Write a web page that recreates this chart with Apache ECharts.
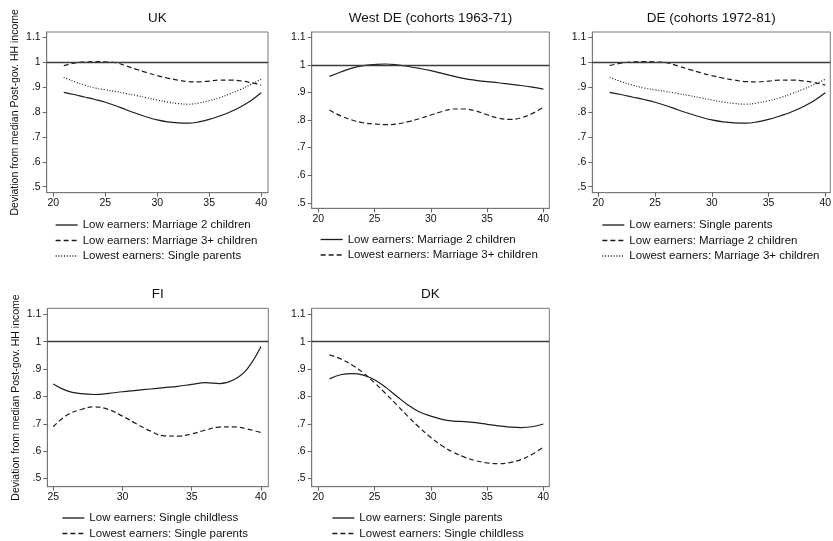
<!DOCTYPE html>
<html><head><meta charset="utf-8">
<script src="https://cdn.jsdelivr.net/npm/echarts@6/dist/echarts.min.js"></script>
<style>html,body{margin:0;padding:0;background:#fff}#c{width:833px;height:541px}</style>
</head><body><div id="c"></div>
<script>
// ---------- data ----------
const ages2040 = [21,22,23,24,25,26,27,28,29,30,31,32,33,34,35,36,37,38,39,40];
const agesFI   = [25,26,27,28,29,30,31,32,33,34,35,36,37,38,39,40];
const xTicks2040 = [20,25,30,35,40];
const xTicksFI   = [25,30,35,40];
const yTicks = [0.5,0.6,0.7,0.8,0.9,1,1.1];
const refLevel = 1;
const yTitle = 'Deviation from median Post-gov. HH income';

// UK
const ukLowMarriage2   = [.879,.870,.860,.850,.839,.825,.809,.794,.780,.768,.760,.756,.755,.760,.770,.784,.800,.820,.845,.877];
const ukLowMarriage3   = [.986,.996,1.001,1.002,1.001,.998,.985,.971,.958,.946,.936,.928,.922,.921,.924,.928,.928,.925,.918,.908];
const ukLowestSingleP  = [.939,.922,.908,.896,.889,.882,.874,.866,.857,.848,.840,.834,.831,.836,.845,.857,.873,.890,.910,.931];
// West DE (cohorts 1963-71)
const wdeLowMarriage2     = [.958,.974,.988,.997,1.001,1.003,1.000,.994,.987,.979,.969,.959,.950,.944,.939,.935,.930,.925,.919,.912];
const wdeLowestMarriage3  = [.836,.815,.800,.790,.786,.783,.786,.794,.805,.818,.831,.840,.840,.833,.819,.807,.802,.808,.823,.846];
// DE (cohorts 1972-81)
const deLowSingleP        = [.879,.870,.860,.850,.839,.825,.809,.794,.780,.768,.760,.756,.755,.760,.770,.784,.800,.820,.845,.877];
const deLowMarriage2      = [.986,.996,1.001,1.002,1.001,.998,.985,.971,.958,.946,.936,.928,.922,.921,.924,.928,.928,.925,.918,.908];
const deLowestMarriage3   = [.939,.922,.908,.896,.889,.882,.874,.866,.857,.848,.840,.834,.831,.836,.845,.857,.873,.890,.910,.931];
// FI
const fiLowSingleChildless   = [.845,.820,.810,.807,.811,.817,.822,.827,.832,.837,.844,.850,.847,.860,.900,.982];
const fiLowestSingleParents  = [.689,.732,.752,.762,.752,.728,.700,.674,.656,.655,.663,.677,.688,.689,.681,.668];
// DK
const dkLowSingleParents     = [.864,.879,.883,.878,.861,.833,.800,.768,.743,.728,.716,.710,.708,.704,.698,.692,.688,.686,.689,.699];
const dkLowestSingleChildless= [.952,.937,.915,.886,.850,.810,.768,.726,.686,.650,.620,.596,.578,.565,.557,.554,.558,.569,.588,.615];

// ---------- layout / style ----------
const FONT = "'Liberation Sans', Arial, sans-serif";
const DASH = {solid:'solid', dashed:[5,3], dotted:[1,1.8]};
const panels = [
  {title:'UK', box:[46.7,32,268,192.7], x:[19.36,40.66], y:[0.476,1.121], xt:xTicks2040, yName:true, lg:[55,219],
   s:[['Low earners: Marriage 2 children',ages2040,ukLowMarriage2,'solid'],
      ['Low earners: Marriage 3+ children',ages2040,ukLowMarriage3,'dashed'],
      ['Lowest earners: Single parents',ages2040,ukLowestSingleP,'dotted']]},
  {title:'West DE (cohorts 1963-71)', box:[311.7,32,549.3,208.3], x:[19.42,40.53], y:[0.48,1.119], xt:xTicks2040, yName:false, lg:[320,233.5],
   s:[['Low earners: Marriage 2 children',ages2040,wdeLowMarriage2,'solid'],
      ['Lowest earners: Marriage 3+ children',ages2040,wdeLowestMarriage3,'dashed']]},
  {title:'DE (cohorts 1972-81)', box:[592.3,32,830.3,192.7], x:[19.47,40.44], y:[0.476,1.121], xt:xTicks2040, yName:false, lg:[601.7,219],
   s:[['Low earners: Single parents',ages2040,deLowSingleP,'solid'],
      ['Low earners: Marriage 2 children',ages2040,deLowMarriage2,'dashed'],
      ['Lowest earners: Marriage 3+ children',ages2040,deLowestMarriage3,'dotted']]},
  {title:'FI', box:[47.3,308.3,268.3,486.7], x:[24.57,40.53], y:[0.47,1.122], xt:xTicksFI, yName:true, lg:[61.7,512],
   s:[['Low earners: Single childless',agesFI,fiLowSingleChildless,'solid'],
      ['Lowest earners: Single parents',agesFI,fiLowestSingleParents,'dashed']]},
  {title:'DK', box:[311.7,308.3,549.3,486.7], x:[19.42,40.53], y:[0.47,1.122], xt:xTicks2040, yName:false, lg:[331.7,512],
   s:[['Low earners: Single parents',ages2040,dkLowSingleParents,'solid'],
      ['Lowest earners: Single childless',ages2040,dkLowestSingleChildless,'dashed']]}
];

const option = {animation:false, backgroundColor:'#fff', textStyle:{fontFamily:FONT},
  title:[], grid:[], xAxis:[], yAxis:[], series:[], legend:[]};
const yFmt = v => { const t = (Math.round(v*10)/10).toString(); return t.replace(/^0\./,'.'); };

panels.forEach((p,i)=>{
  const [L,T,R,B] = p.box;
  option.title.push({text:p.title, left:(L+R)/2, top:T-21, textAlign:'center', padding:0,
    textStyle:{fontSize:13.5, fontWeight:'normal', color:'#111', fontFamily:FONT}});
  option.grid.push({left:L, top:T, width:R-L, height:B-T, show:true, borderColor:'#777', borderWidth:1,
    containLabel:false, outerBoundsMode:'none'});
  option.xAxis.push({type:'value', gridIndex:i, min:p.x[0], max:p.x[1],
    axisLine:{show:true, onZero:false, lineStyle:{color:'#777', width:1}},
    axisTick:{show:true, length:4, customValues:p.xt, lineStyle:{color:'#666'}},
    axisLabel:{customValues:p.xt, fontSize:10.5, color:'#111', margin:5, fontFamily:FONT},
    splitLine:{show:false}});
  option.yAxis.push({type:'value', gridIndex:i, min:p.y[0], max:p.y[1],
    name:p.yName?yTitle:'', nameLocation:'middle', nameGap:26,
    nameTextStyle:{fontSize:10.5, color:'#111', fontFamily:FONT},
    axisLine:{show:true, onZero:false, lineStyle:{color:'#777', width:1}},
    axisTick:{show:true, length:4, customValues:yTicks, lineStyle:{color:'#666'}},
    axisLabel:{customValues:yTicks, formatter:yFmt, fontSize:10.5, color:'#111', margin:6, fontFamily:FONT},
    splitLine:{show:false}});
  const names = [];
  p.s.forEach((s,k)=>{
    const nm = p.title + '|' + s[0];
    names.push(nm);
    const ser = {type:'line', name:nm, xAxisIndex:i, yAxisIndex:i, symbol:'none', showSymbol:false, smooth:0.4,
      itemStyle:{color:'#1e1e1e'},
      lineStyle:{color:'#1e1e1e', width:1.2, type:DASH[s[3]]},
      data:s[1].map((a,j)=>[a, s[2][j]])};
    if(k===0){
      ser.markLine = {silent:true, symbol:'none', label:{show:false}, animation:false,
        lineStyle:{color:'#3c3c3c', width:1.3, type:'solid'}, data:[{yAxis:refLevel}]};
    }
    option.series.push(ser);
  });
  option.legend.push({orient:'vertical', left:p.lg[0], top:p.lg[1], padding:0, itemWidth:22, itemHeight:10,
    itemGap:3.5, selectedMode:false, data:names, formatter:n=>n.split('|')[1],
    itemStyle:{opacity:0}, lineStyle:{width:1.3, color:'#1a1a1a'},
    textStyle:{fontSize:11.5, color:'#111', fontFamily:FONT}});
});

const chart = echarts.init(document.getElementById('c'), null, {renderer:'canvas'});
chart.setOption(option);
</script>
</body></html>
